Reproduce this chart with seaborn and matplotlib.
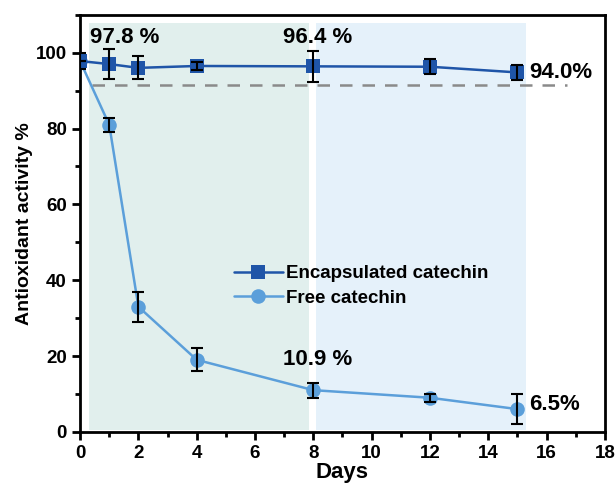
import matplotlib
matplotlib.use("Agg")
import matplotlib.pyplot as plt
import seaborn as sns
import pandas as pd
from matplotlib.ticker import MultipleLocator

sns.set_theme(style="ticks")
plt.rcParams['font.family'] = ['Liberation Sans', 'DejaVu Sans']
plt.rcParams['font.weight'] = 'bold'
plt.rcParams['text.color'] = 'black'
plt.rcParams['axes.labelcolor'] = 'black'
plt.rcParams['xtick.color'] = 'black'
plt.rcParams['ytick.color'] = 'black'

days = [0, 1, 2, 4, 8, 12, 15]
encapsulated = [97.8, 97.0, 96.0, 96.5, 96.4, 96.3, 94.8]
encapsulated_err = [0.0, 4.0, 3.0, 1.0, 4.0, 2.0, 2.0]
free = [97.8, 81.0, 33.0, 19.0, 11.0, 9.0, 6.0]
free_err = [2.0, 1.8, 4.0, 3.0, 2.0, 1.0, 4.0]

c_enc = '#1f55a8'
c_free = '#5b9fda'

fig = plt.figure(figsize=(6.16, 4.93), dpi=100)
ax = fig.add_axes([0.13, 0.124, 0.852, 0.846])

# shaded regions
ax.axvspan(0.3, 7.85, ymin=0.005, ymax=0.98, color='#e1efed', zorder=0, lw=0)
ax.axvspan(8.1, 15.3, ymin=0.005, ymax=0.98, color='#e5f1fa', zorder=0, lw=0)

ax.plot([0.4, 16.7], [91.5, 91.5], ls=(0, (5, 4)), color='#8a8a8a', lw=1.8, zorder=1)

df_enc = pd.DataFrame({'Days': days, 'val': encapsulated})
df_free = pd.DataFrame({'Days': days, 'val': free})

sns.lineplot(data=df_free, x='Days', y='val', ax=ax, color=c_free, marker='o', markersize=10.5,
             markeredgewidth=0, lw=1.8, label='Free catechin', zorder=4)
sns.lineplot(data=df_enc, x='Days', y='val', ax=ax, color=c_enc, marker='s', markersize=9.5,
             markeredgewidth=0, lw=1.8, label='Encapsulated catechin', zorder=5)

ax.errorbar(days, free, yerr=free_err, fmt='none', ecolor='black', capsize=4, elinewidth=1.5, capthick=1.5, zorder=6)
ax.errorbar(days, encapsulated, yerr=encapsulated_err, fmt='none', ecolor='black', capsize=4, elinewidth=1.5, capthick=1.5, zorder=6)

ax.set_xlim(0, 18)
ax.set_ylim(0, 110)
ax.xaxis.set_major_locator(MultipleLocator(2))
ax.xaxis.set_minor_locator(MultipleLocator(1))
ax.yaxis.set_major_locator(MultipleLocator(20))
ax.yaxis.set_minor_locator(MultipleLocator(10))
ax.tick_params(which='major', direction='out', length=6, width=2, labelsize=13.5, colors='black')
ax.tick_params(which='minor', direction='out', length=3.5, width=2, colors='black')
for lbl in ax.get_xticklabels() + ax.get_yticklabels():
    lbl.set_fontweight('bold')
for s in ax.spines.values():
    s.set_linewidth(2)
    s.set_color('black')
ax.set_xlabel('Days', fontsize=16, fontweight='bold', labelpad=0)
ax.set_ylabel('Antioxidant activity %', fontsize=14, fontweight='bold', labelpad=2)

h, l = ax.get_legend_handles_labels()
ax.legend(h[::-1], l[::-1], loc='center left', bbox_to_anchor=(0.275, 0.35), frameon=False,
          prop={'size': 13.5, 'weight': 'bold'}, handlelength=2.6, handletextpad=0.2,
          labelspacing=0.4, borderpad=0)

ax.text(0.35, 104, '97.8 %', fontsize=16, fontweight='bold', va='center', ha='left')
ax.text(6.95, 104, '96.4 %', fontsize=16, fontweight='bold', va='center', ha='left')
ax.text(15.4, 94.8, '94.0%', fontsize=16, fontweight='bold', va='center', ha='left')
ax.text(6.95, 19, '10.9 %', fontsize=16, fontweight='bold', va='center', ha='left')
ax.text(15.4, 7.2, '6.5%', fontsize=16, fontweight='bold', va='center', ha='left')

fig.savefig('out.png', dpi=100)
